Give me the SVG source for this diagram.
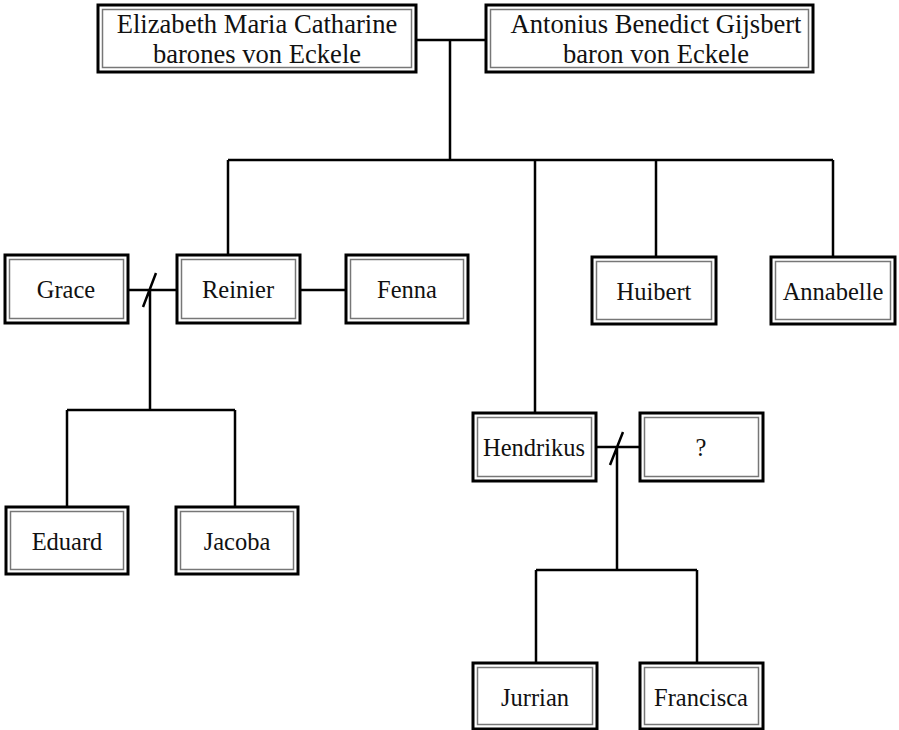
<svg xmlns="http://www.w3.org/2000/svg" width="899" height="730" viewBox="0 0 899 730">
<style>
.o{fill:#fff;stroke:#000;stroke-width:3}
.i{fill:none;stroke:#777;stroke-width:1.5}
.t{font-family:"Liberation Serif",serif;font-size:24.5px;fill:#111;text-anchor:middle}
.b{font-size:26.6px}
.c{stroke:#000;stroke-width:2.5;fill:none}
</style>
<rect width="899" height="730" fill="#fff"/>
<g id="connectors">
<path class="c" d="M416 40H486M450 40V160M228 160H833M228 160V255M535 160V413M656 160V257M833 160V257"/>
<path class="c" d="M128 290H177M300 290H346M150 290V410M67 410H235M67 410V507M235 410V507M143 307L156 273"/>
<path class="c" d="M596 447H640M617 447V570M536 570H697M536 570V663M697 570V663M610 465L623 432"/>
</g>
<g id="elizabeth"><rect class="o" x="98" y="5" width="318" height="67"/><rect class="i" x="102.5" y="9.5" width="309" height="58"/><text class="t b" x="257" y="33">Elizabeth Maria Catharine</text><text class="t b" x="257" y="63">barones von Eckele</text></g>
<g id="antonius"><rect class="o" x="486" y="5" width="327" height="67"/><rect class="i" x="490.5" y="9.5" width="318" height="58"/><text class="t b" x="656" y="33">Antonius Benedict Gijsbert</text><text class="t b" x="656" y="63">baron von Eckele</text></g>
<g id="grace"><rect class="o" x="5" y="255" width="123" height="68"/><rect class="i" x="9.5" y="259.5" width="114" height="59"/><text class="t" x="66" y="298">Grace</text></g>
<g id="reinier"><rect class="o" x="177" y="255" width="123" height="68"/><rect class="i" x="181.5" y="259.5" width="114" height="59"/><text class="t" x="238" y="298">Reinier</text></g>
<g id="fenna"><rect class="o" x="346" y="255" width="122" height="68"/><rect class="i" x="350.5" y="259.5" width="113" height="59"/><text class="t" x="407" y="298">Fenna</text></g>
<g id="huibert"><rect class="o" x="592" y="257" width="124" height="67"/><rect class="i" x="596.5" y="261.5" width="115" height="58"/><text class="t" x="654" y="300">Huibert</text></g>
<g id="annabelle"><rect class="o" x="771" y="257" width="124" height="67"/><rect class="i" x="775.5" y="261.5" width="115" height="58"/><text class="t" x="833" y="300">Annabelle</text></g>
<g id="eduard"><rect class="o" x="6" y="507" width="122" height="67"/><rect class="i" x="10.5" y="511.5" width="113" height="58"/><text class="t" x="67" y="550">Eduard</text></g>
<g id="jacoba"><rect class="o" x="176" y="507" width="122" height="67"/><rect class="i" x="180.5" y="511.5" width="113" height="58"/><text class="t" x="237" y="550">Jacoba</text></g>
<g id="hendrikus"><rect class="o" x="473" y="413" width="123" height="68"/><rect class="i" x="477.5" y="417.5" width="114" height="59"/><text class="t" x="534" y="456">Hendrikus</text></g>
<g id="unknown"><rect class="o" x="640" y="413" width="123" height="68"/><rect class="i" x="644.5" y="417.5" width="114" height="59"/><text class="t" x="701" y="456">?</text></g>
<g id="jurrian"><rect class="o" x="473" y="663" width="124" height="66"/><rect class="i" x="477.5" y="667.5" width="115" height="57"/><text class="t" x="535" y="706">Jurrian</text></g>
<g id="francisca"><rect class="o" x="640" y="663" width="123" height="66"/><rect class="i" x="644.5" y="667.5" width="114" height="57"/><text class="t" x="701" y="706">Francisca</text></g>
</svg>
